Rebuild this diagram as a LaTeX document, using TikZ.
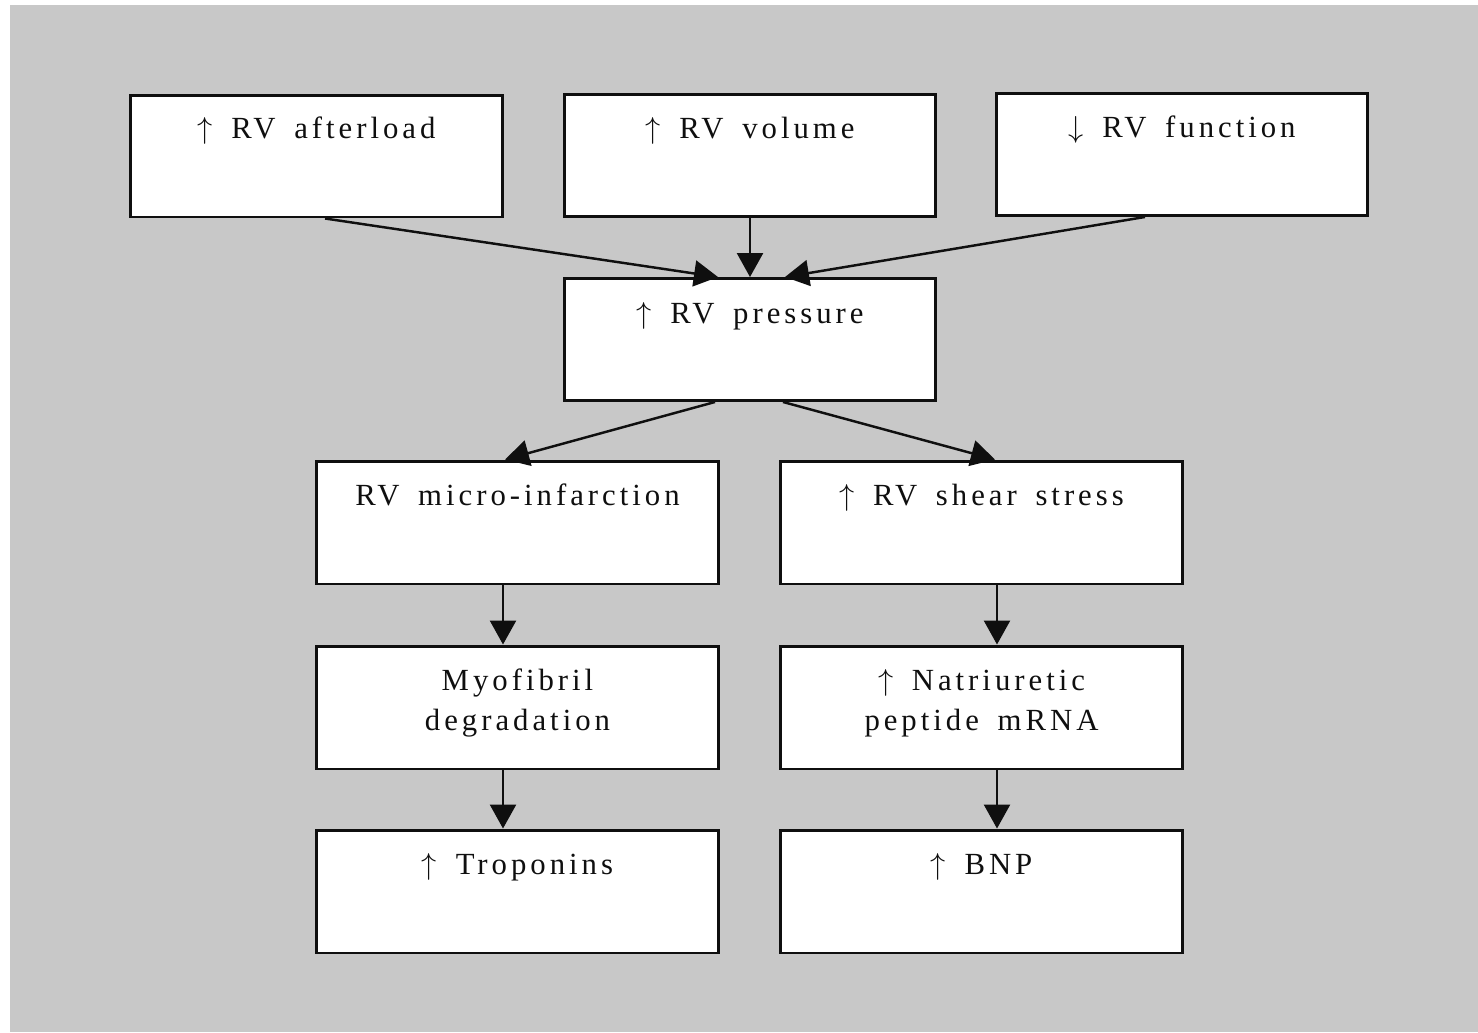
\documentclass[tikz,border=0pt]{standalone}
\usepackage{fontspec}
\setmainfont{Liberation Serif}[LetterSpace=13,WordSpace=1.6]
\usetikzlibrary{arrows.meta,calc}
\definecolor{bg}{RGB}{200,200,200}
\definecolor{ink}{RGB}{15,15,15}
\newcommand{\upa}{$\uparrow$}
\newcommand{\dna}{$\downarrow$}
\begin{document}
\begin{tikzpicture}[x=0.02cm,y=-0.02cm,
  box/.style={draw=ink, line width=1.7pt, fill=white, minimum width=7.44cm, minimum height=2.44cm, inner sep=0pt},
  wbox/.style={box, minimum width=8.06cm, minimum height=2.46cm},
  lbl/.style={anchor=base, text=ink, font=\fontsize{17.5}{22.7}\selectfont, align=center, inner sep=0pt},
  arr/.style={draw=ink, line width=1.4pt, -{Triangle[length=0.48cm,width=0.52cm]}}]
\useasboundingbox (0,0) rectangle (1478,1032);
\fill[bg] (10,5) rectangle (1478,1032);
% boxes
\node[box] (aft) at (316.5,156) {};
\node[box] (vol) at (750,155.5) {};
\node[box] (fun) at (1182,154.5) {};
\node[box] (pre) at (750,339.5) {};
\node[wbox] (mic) at (517.5,522.5) {};
\node[wbox] (she) at (981.5,522.5) {};
\node[wbox] (myo) at (517.5,707.5) {};
\node[wbox] (nat) at (981.5,707.5) {};
\node[wbox] (tro) at (517.5,891.5) {};
\node[wbox] (bnp) at (981.5,891.5) {};
% labels
\node[lbl] (aftt) at ($(aft.north)+(0,45)$) {\upa\ RV afterload};
\node[lbl] (volt) at ($(vol.north)+(0,45)$) {\upa\ RV volume};
\node[lbl] (funt) at ($(fun.north)+(0,45)$) {\dna\ RV function};
\node[lbl] (pret) at ($(pre.north)+(0,46)$) {\upa\ RV pressure};
\node[lbl] (mict) at ($(mic.north)+(0,46)$) {RV micro-infarction};
\node[lbl] (shet) at ($(she.north)+(0,46)$) {\upa\ RV shear stress};
\node[lbl] (myot) at ($(myo.north)+(0,86)$) {Myofibril\\degradation};
\node[lbl] (natt) at ($(nat.north)+(0,86)$) {\upa\ Natriuretic\\peptide mRNA};
\node[lbl] (trot) at ($(tro.north)+(0,46)$) {\upa\ Troponins};
\node[lbl] (bnpt) at ($(bnp.north)+(0,46)$) {\upa\ BNP};
% connectors
\draw[arr] ($(aft.south)+(8.5,0)$) -- ($(pre.north)+(-32,0)$);
\draw[arr] (vol.south) -- (pre.north);
\draw[arr] ($(fun.south)+(-37,0)$) -- ($(pre.north)+(35,0)$);
\draw[arr] ($(pre.south)+(-35,0)$) -- ($(mic.north)+(-12.5,0)$);
\draw[arr] ($(pre.south)+(33,0)$) -- ($(she.north)+(13.5,0)$);
\draw[arr] ($(mic.south)+(-14.5,0)$) -- ($(myo.north)+(-14.5,0)$);
\draw[arr] ($(myo.south)+(-14.5,0)$) -- ($(tro.north)+(-14.5,0)$);
\draw[arr] ($(she.south)+(15.5,0)$) -- ($(nat.north)+(15.5,0)$);
\draw[arr] ($(nat.south)+(15.5,0)$) -- ($(bnp.north)+(15.5,0)$);
\end{tikzpicture}
\end{document}
